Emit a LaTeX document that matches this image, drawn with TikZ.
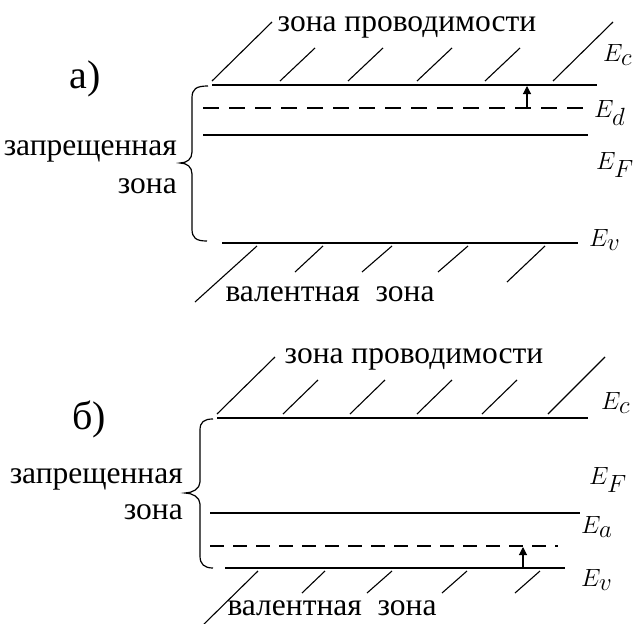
\documentclass[tikz,border=0pt]{standalone}
\usepackage{fontspec}
\setmainfont{Liberation Serif}
\usetikzlibrary{arrows.meta}
\begin{document}
\begin{tikzpicture}[x=1pt,y=-1pt,
  band/.style={line width=1.8pt},
  level/.style={line width=1.3pt},
  hatch/.style={line width=1.1pt},
  dashlevel/.style={line width=1.7pt, dash pattern=on 16pt off 10pt},
  bracestyle/.style={line width=1.2pt},
  txt/.style={font=\fontsize{31.5}{33}\selectfont, inner sep=0pt},
  elbl/.style={font=\fontsize{34}{36}\selectfont, anchor=west, inner sep=0pt},
  panel/.style={font=\fontsize{40}{42}\selectfont, inner sep=0pt},
  jump/.style={line width=1.1pt, -{Triangle[length=8pt,width=8pt]}}]
\useasboundingbox (0,0) rectangle (638,624);
% ---------------- panel a ----------------
\node[panel] (pa) at (85,79) {а)};
\coordinate (aEcL) at (212,85);  \coordinate (aEcR) at (597,85);
\coordinate (aEdL) at (203,108); \coordinate (aEdR) at (587,108);
\coordinate (aEFL) at (203,135); \coordinate (aEFR) at (588,135);
\coordinate (aEvL) at (222,243); \coordinate (aEvR) at (578,243);
\draw[band] (aEcL) -- (aEcR);
\draw[dashlevel] (aEdL) -- (aEdR);
\draw[level] (aEFL) -- (aEFR);
\draw[band] (aEvL) -- (aEvR);
\foreach \a/\b/\c/\d in {212/81/272/22, 280/81/315/48, 348/81/383/48, 417/81/452/48, 485/81/520/48, 553/81/613/22}
  \draw[hatch] (\a,\b) -- (\c,\d);
\foreach \a/\b/\c/\d in {257/246/195/302, 323/246/295/272, 392/246/362/272, 468/246/438/272, 545/246/507/282}
  \draw[hatch] (\a,\b) -- (\c,\d);
\coordinate (aArS) at (527,108); \coordinate (aArE) at (527,86);
\draw[jump] (aArS) -- (aArE);
\node[txt] (acond) at (407,27) {зона проводимости};
\node[txt] (aval) at (330,294) {валентная\ \ зона};
\node[txt, anchor=east] (agap1) at (177,151) {запрещенная};
\node[txt, anchor=east] (agap2) at (177,186) {зона};
\node[elbl] (aEc) at (603,55) {$E_c$};
\node[elbl] (aEd) at (594,113) {$E_d$};
\node[elbl] (aEF) at (596,165) {$E_F$};
\node[elbl] (aEv) at (589,240) {$E_v$};
\draw[bracestyle] (208,86) .. controls (196,86) and (192,89) .. (192,98) -- (192,152)
  .. controls (192,159) and (187,163) .. (180,163)
  .. controls (187,163) and (192,167) .. (192,174) -- (192,229)
  .. controls (192,238) and (196,241) .. (207,241);
% ---------------- panel b ----------------
\node[panel] (pb) at (89,419) {б)};
\coordinate (bEcL) at (217,418); \coordinate (bEcR) at (588,418);
\coordinate (bEFL) at (210,513); \coordinate (bEFR) at (580,513);
\coordinate (bEaL) at (210,546); \coordinate (bEaR) at (558,546);
\coordinate (bEvL) at (225,568); \coordinate (bEvR) at (565,568);
\draw[band] (bEcL) -- (bEcR);
\draw[band] (bEFL) -- (bEFR);
\draw[dashlevel, dash pattern=on 14pt off 9pt] (bEaL) -- (bEaR);
\draw[level] (bEvL) -- (bEvR);
\foreach \a/\b/\c/\d in {217/414/275/357, 283/414/318/380, 350/414/385/380, 417/414/452/380, 482/414/517/380, 548/414/605/357}
  \draw[hatch] (\a,\b) -- (\c,\d);
\foreach \a/\b/\c/\d in {258/571/202/626, 325/571/302/593, 392/571/367/593, 467/571/442/593, 540/571/515/593}
  \draw[hatch] (\a,\b) -- (\c,\d);
\coordinate (bArS) at (523,568); \coordinate (bArE) at (523,547);
\draw[jump] (bArS) -- (bArE);
\node[txt] (bcond) at (414,359) {зона проводимости};
\node[txt] (bval) at (332,608) {валентная\ \ зона};
\node[txt, anchor=east] (bgap1) at (183,479) {запрещенная};
\node[txt, anchor=east] (bgap2) at (183,512) {зона};
\node[elbl] (bEc) at (601,403) {$E_c$};
\node[elbl] (bEF) at (589,480) {$E_F$};
\node[elbl] (bEa) at (581,527) {$E_a$};
\node[elbl] (bEv) at (581,580) {$E_v$};
\draw[bracestyle] (213,419) .. controls (204,419) and (200,422) .. (200,430) -- (200,482)
  .. controls (200,489) and (192,493) .. (185,493)
  .. controls (192,493) and (200,497) .. (200,504) -- (200,556)
  .. controls (200,564) and (204,568) .. (213,568);
\end{tikzpicture}
\end{document}
